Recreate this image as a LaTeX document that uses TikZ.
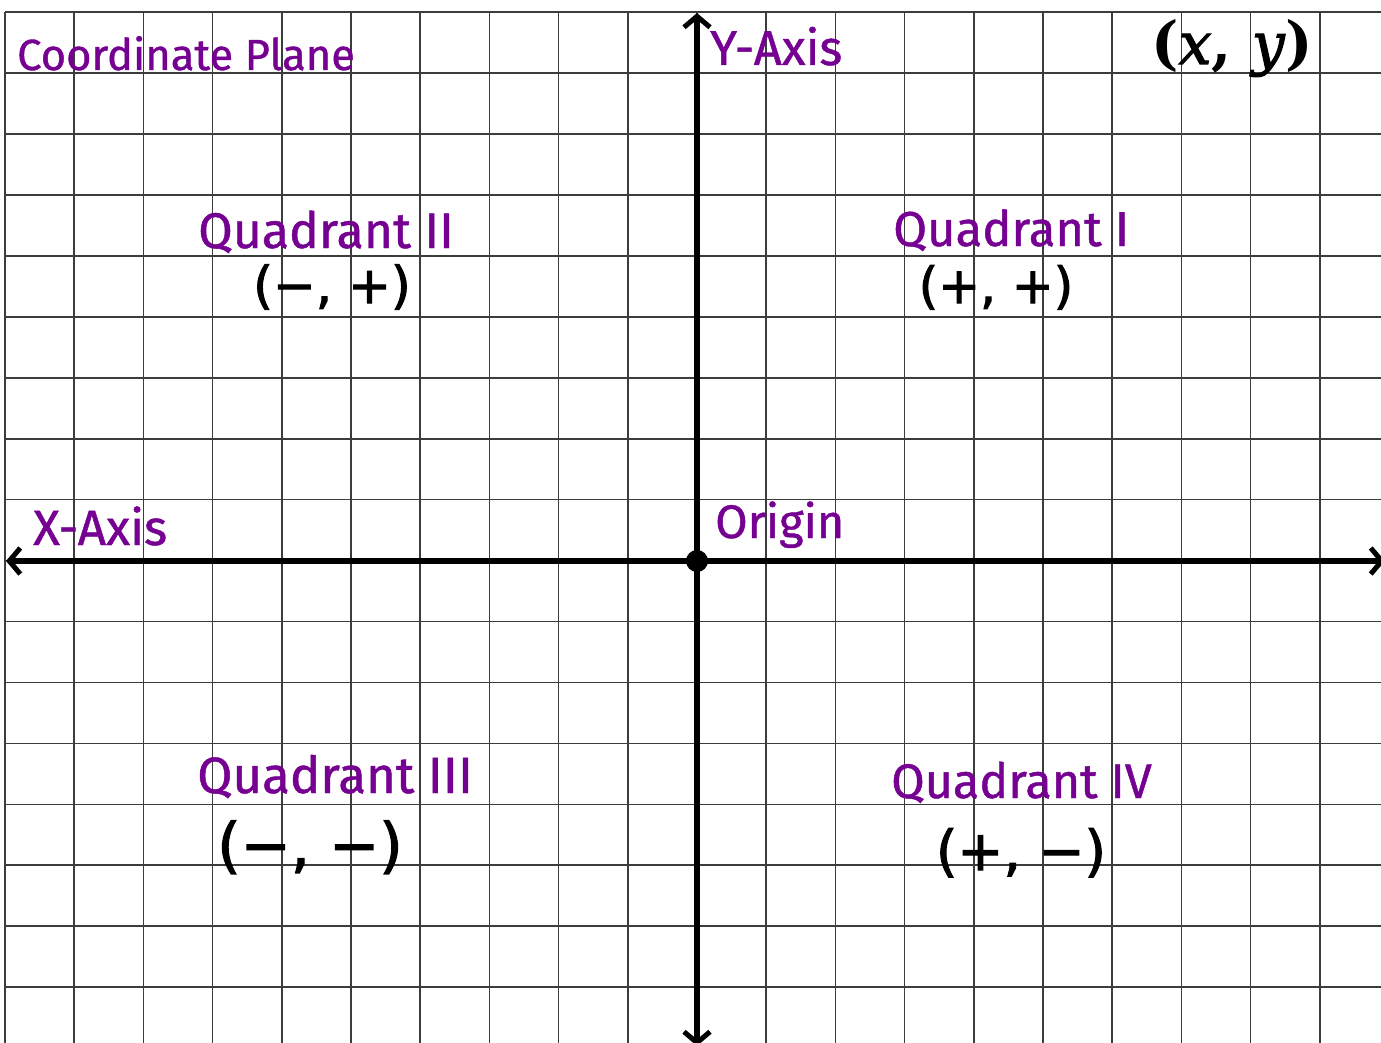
\documentclass[tikz,border=0pt]{standalone}
\usepackage{fontspec}
\setmainfont{Fira Sans}[BoldFont={Fira Sans}, BoldFeatures={FakeBold=0.9}]
\newfontfamily\handfont{DejaVu Sans}[BoldFont={DejaVu Sans}, BoldFeatures={FakeBold=2}]
\newfontfamily\handital{DejaVu Serif}[ItalicFont={DejaVu Serif Italic}, BoldItalicFont={DejaVu Serif Italic}, BoldItalicFeatures={FakeBold=2}]
\usetikzlibrary{arrows.meta}
\definecolor{labelpurple}{RGB}{118,0,145}
\definecolor{gridgray}{RGB}{60,60,60}
\tikzset{
  gridline/.style={draw=gridgray, line width=1.7pt},
  axisline/.style={draw=black, line width=5.5pt, line cap=round,
    {Straight Barb[length=11pt,width=26pt,line width=5pt]}-{Straight Barb[length=11pt,width=26pt,line width=5pt]}},
  lbl/.style={text=labelpurple, inner sep=0pt, anchor=base west},
  hand/.style={text=black, inner sep=0pt, anchor=base},
  origindot/.style={circle, fill=black, minimum size=22pt, inner sep=0pt},
}
\begin{document}
\begin{tikzpicture}[x=1pt,y=-1pt]
\useasboundingbox (0,0) rectangle (1381,1043);
\fill[white] (0,0) rectangle (1381,1043);
\clip (0,0) rectangle (1381,1043);
% grid
\foreach \k in {0,...,19} {
  \draw[gridline] ({5+69.2*\k},12) -- ({5+69.2*\k},1050);
}
\foreach \k in {0,...,16} {
  \draw[gridline] (5,{12+60.95*\k}) -- (1390,{12+60.95*\k});
}
% axes
\coordinate (xl) at (6,561);
\coordinate (xr) at (1385,561);
\coordinate (yt) at (697,13);
\coordinate (yb) at (697,1046);
\node[origindot] (O) at (697,561) {};
\draw[axisline] (xl) -- (xr);
\draw[axisline] (yb) -- (yt);
% labels
\node[lbl, font=\fontsize{43.5}{46}\selectfont\bfseries] (title) at (17,70) {Coordinate Plane};
\node[lbl, font=\fontsize{49}{52}\selectfont\bfseries] (yaxis) at (710,65) {Y-Axis};
\node[lbl, font=\fontsize{49.5}{52}\selectfont\bfseries] (xaxis) at (33,545) {X-Axis};
\node[lbl, font=\fontsize{47}{50}\selectfont\bfseries] (origin) at (715,538) {Origin};
\node[lbl, font=\fontsize{50}{52}\selectfont\bfseries] (q2) at (198,248) {Quadrant II};
\node[lbl, font=\fontsize{49}{52}\selectfont\bfseries] (q1) at (893,246) {Quadrant I};
\node[lbl, font=\fontsize{51}{53}\selectfont\bfseries] (q3) at (197,793) {Quadrant III};
\node[lbl, font=\fontsize{48.5}{52}\selectfont\bfseries] (q4) at (891,798) {Quadrant IV};
% handwritten signs
\node[hand, font=\fontsize{58}{60}\selectfont\handital\bfseries] (xy) at (1232,64) {(\textit{x}, \textit{y})};
\node[hand, font=\fontsize{51}{53}\selectfont\handfont\bfseries] (s2) at (332,303) {(−, +)};
\node[hand, font=\fontsize{50}{52}\selectfont\handfont\bfseries] (s1) at (996,303) {(+, +)};
\node[hand, font=\fontsize{60}{62}\selectfont\handfont\bfseries] (s3) at (310,866) {(−, −)};
\node[hand, font=\fontsize{55}{57}\selectfont\handfont\bfseries] (s4) at (1021,870) {(+, −)};
\end{tikzpicture}
\end{document}
